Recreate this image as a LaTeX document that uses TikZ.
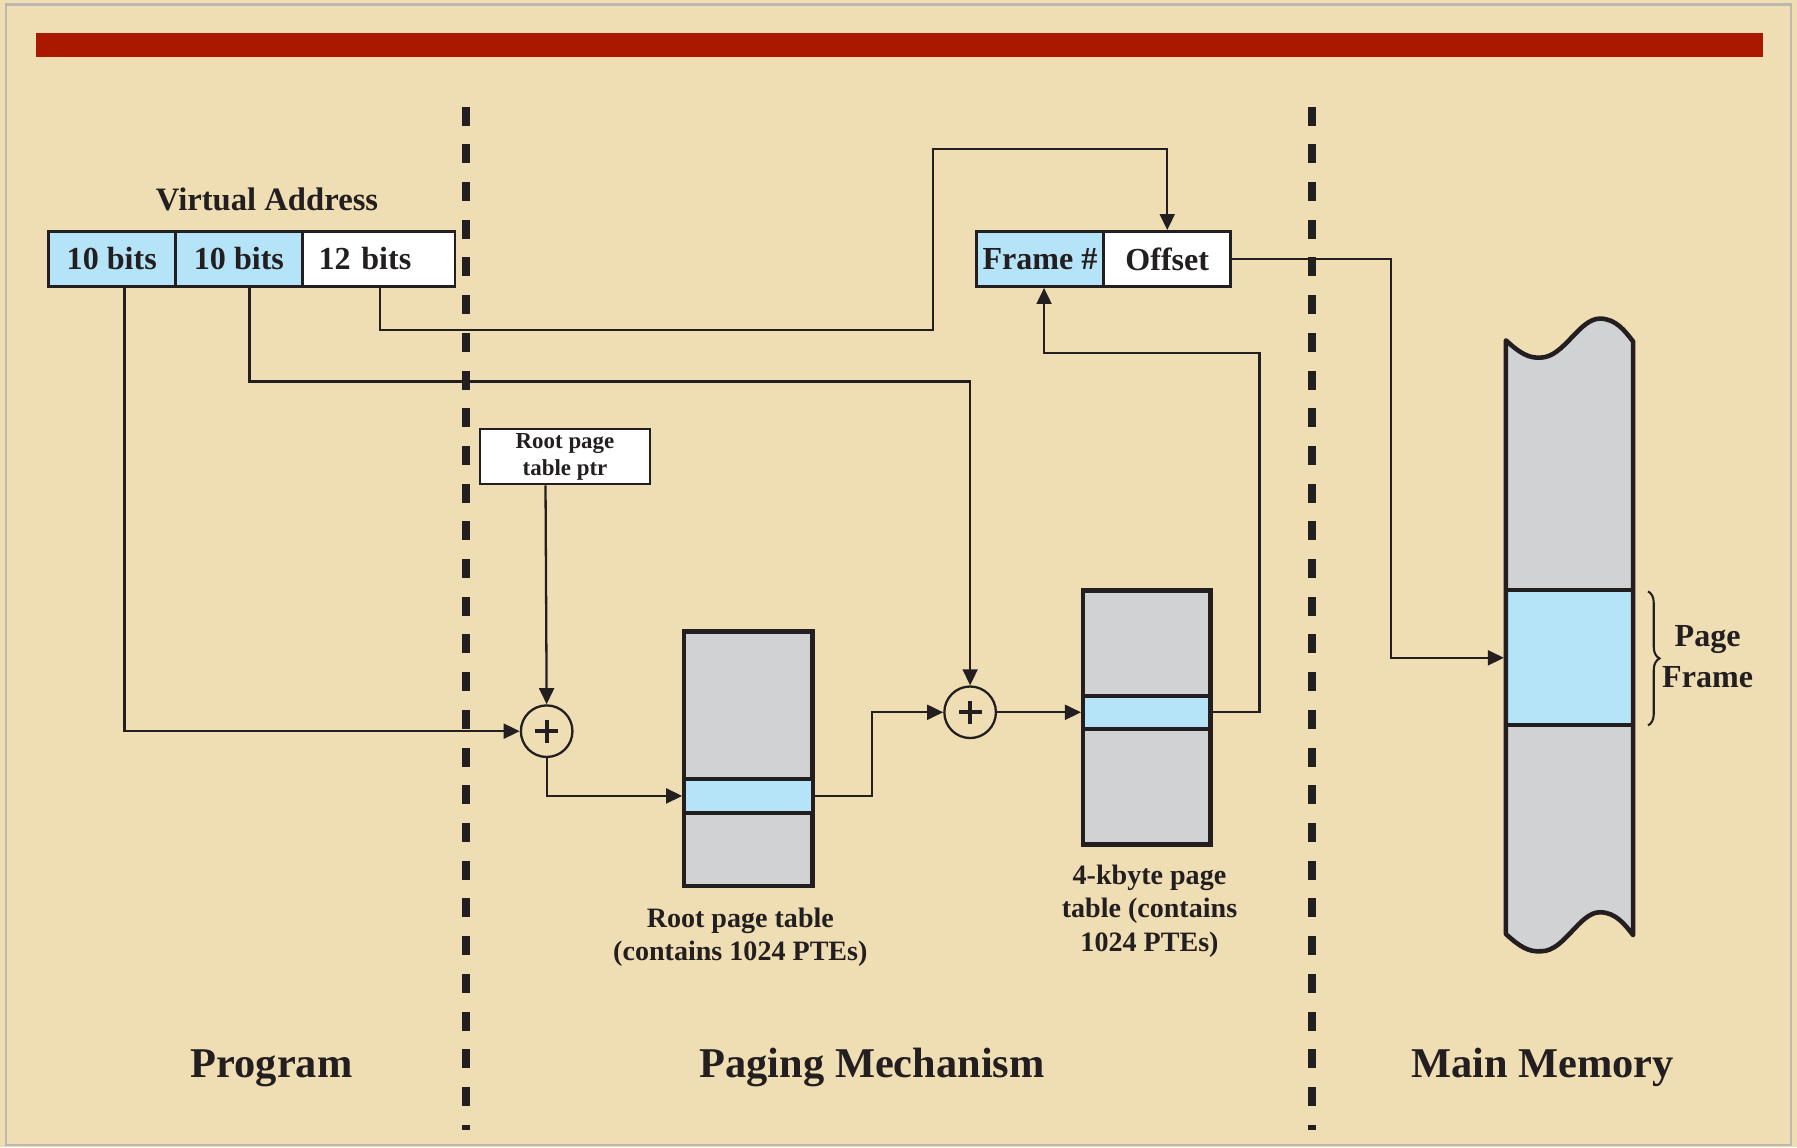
\documentclass[tikz,border=0pt]{standalone}
\usepackage{fontspec}
\setmainfont{Liberation Serif}
\usetikzlibrary{arrows.meta,decorations.pathreplacing,calc}
\definecolor{parch}{HTML}{EFDDB4}
\definecolor{barred}{HTML}{AA1800}
\definecolor{lblue}{HTML}{B5E3F8}
\definecolor{tgrey}{HTML}{D1D2D4}
\definecolor{ink}{HTML}{231F20}
\definecolor{frameg}{HTML}{BDB8AE}
\begin{document}
\begin{tikzpicture}[x=1pt,y=-1pt,
  conn/.style={draw=ink, line width=2pt, -{Triangle[length=14pt,width=13pt]}},
  cell/.style={draw=ink, line width=2.5pt, minimum height=48pt, inner sep=0pt,
    font=\fontsize{28}{34}\selectfont\bfseries, text=ink},
  ptrbox/.style={draw=ink, fill=white, line width=2pt, minimum width=148pt, minimum height=48pt,
    inner sep=0pt, align=center, font=\fontsize{20}{24}\selectfont\bfseries, text=ink},
  tbl/.style={draw=ink, fill=tgrey, line width=4pt, inner sep=0pt},
  rowbox/.style={draw=ink, fill=lblue, line width=3.5pt, inner sep=0pt},
  circ/.style={circle, draw=ink, line width=2pt, minimum size=45pt, inner sep=0pt},
  divider/.style={draw=ink, line width=7pt, dash pattern=on 16.6pt off 16.3pt},
  caption/.style={align=center, text=ink, font=\fontsize{24.5}{29}\selectfont\bfseries},
  biglabel/.style={anchor=base, text=ink, font=\fontsize{37}{44}\selectfont\bfseries},
]
\useasboundingbox (0,0) rectangle (1568,1001);
\fill[parch] (0,0) rectangle (1568,1001);
\draw[frameg, line width=2pt] (5,4) rectangle (1563,999);
\fill[barred] (31,29) rectangle (1538,50);

% dividers
\draw[divider] (407,93) -- (407,986);
\draw[divider] (1145,93) -- (1145,986);

% virtual address
\node[anchor=base, text=ink, font=\fontsize{28.5}{34}\selectfont\bfseries] (vatitle) at (233,184) {Virtual Address};
\node[cell, fill=lblue, minimum width=111pt] (va1) at (97.5,226) {10 bits};
\node[cell, fill=lblue, minimum width=111pt] (va2) at (208.5,226) {10 bits};
\node[cell, fill=white, minimum width=133pt, text width=105pt, inner xsep=14pt, align=left] (va3) at (330.5,226) {12 bits};

% physical address
\node[cell, fill=lblue, minimum width=111pt] (fr) at (907.5,226) {Frame \#};
\node[cell, fill=white, minimum width=111pt] (off) at (1018.5,226) {Offset};

% root ptr
\node[ptrbox] (rptr) at (493,398.5) {Root page\\table ptr};

% adders
\node[circ] (c1) at (477,638) {};
\node[circ] (c2) at (846.5,621.5) {};
\foreach \c in {c1,c2}
  \draw[ink, line width=3.5pt] ($(\c)+(-10,0)$) -- ($(\c)+(10,0)$) ($(\c)+(0,-10)$) -- ($(\c)+(0,10)$);

% root page table
\node[tbl, minimum width=112pt, minimum height=222pt] (rt) at (653,662) {};
\node[rowbox, minimum width=112pt, minimum height=29pt] (rrow) at (653,694.5) {};
\node[caption] (rtcap) at (646,818) {Root page table\\(contains 1024 PTEs)};

% second-level page table
\node[tbl, minimum width=111pt, minimum height=222pt] (pt) at (1000.5,626) {};
\node[rowbox, minimum width=111pt, minimum height=29pt] (trow) at (1000.5,621.5) {};
\node[caption] (ptcap) at (1003,795) {4-kbyte page\\table (contains\\1024 PTEs)};

% main memory
\path[fill=tgrey] (1314,297) .. controls (1326,308) and (1334,313) .. (1345,312)
  .. controls (1365,311) and (1378,278) .. (1396,278)
  .. controls (1410,278) and (1418,289) .. (1425,298) -- (1425,816)
  .. controls (1418,807) and (1410,796) .. (1396,796)
  .. controls (1378,796) and (1365,830) .. (1345,830)
  .. controls (1334,831) and (1326,826) .. (1314,815) -- cycle;
\node[rowbox, minimum width=111pt, minimum height=118pt] (mrow) at (1369.5,574) {};
\draw[ink, line width=4pt, line join=round] (1314,297) .. controls (1326,308) and (1334,313) .. (1345,312)
  .. controls (1365,311) and (1378,278) .. (1396,278)
  .. controls (1410,278) and (1418,289) .. (1425,298) -- (1425,816)
  .. controls (1418,807) and (1410,796) .. (1396,796)
  .. controls (1378,796) and (1365,830) .. (1345,830)
  .. controls (1334,831) and (1326,826) .. (1314,815) -- cycle;
\draw[ink, line width=1.8pt, decorate, decoration={brace, amplitude=10pt}] (1438,516) -- (1438,633);
\node[align=center, text=ink, font=\fontsize{28}{35}\selectfont\bfseries] (pf) at (1490,573) {Page\\Frame};

% bend coordinates
\coordinate (b3a) at (814,288);
\coordinate (b3b) at (1018.5,130);
\coordinate (k2) at (846.5,333);
\coordinate (k4) at (1099,308);
\coordinate (k5) at (1214,574);

% connectors
\draw[conn] ([xshift=68pt]va1.south west) |- (c1.west);
\draw[conn] ([xshift=66pt]va2.south west) |- (k2) -- (c2.north);
\draw[conn] ([xshift=69pt]va3.south west) |- (b3a) |- (b3b) -- (off.north);
\draw[conn] ([xshift=58pt]rptr.south west) -- (c1.north);
\draw[conn] (c1.south) |- (rrow.west);
\draw[conn] (rrow.east) -- ++(50,0) |- (c2.west);
\draw[conn] (c2.east) -- (trow.west);
\draw[conn] (trow.east) -| (k4) -| ([xshift=3.5pt]fr.south);
\draw[conn] (off.east) -| (k5) -- (mrow.west);

% bottom labels
\node[biglabel] (lprog) at (237,940) {Program};
\node[biglabel] (lpag) at (761,940) {Paging Mechanism};
\node[biglabel] (lmem) at (1346,940) {Main Memory};
\end{tikzpicture}
\end{document}
